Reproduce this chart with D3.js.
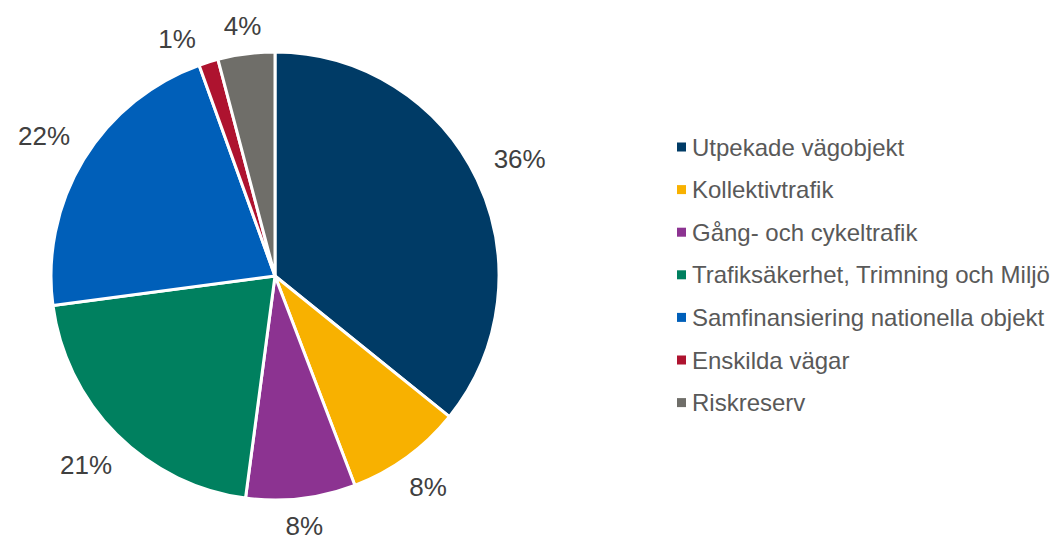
<!DOCTYPE html>
<html lang="en">
<head>
    <meta charset="UTF-8">
    <title>Fördelning</title>
    <script src="https://d3js.org/d3.v7.min.js"></script>
    <style>
        body { margin: 0; background: #fff; }
        svg { display: block; font-family: "Liberation Sans", Arial, sans-serif; }
    </style>
</head>
<body>
    <svg id="chart" width="1054" height="538"></svg>

    <script>
        // Categories and their shares (percent)
        const categories = [
            'Utpekade vägobjekt',
            'Kollektivtrafik',
            'Gång- och cykeltrafik',
            'Trafiksäkerhet, Trimning och Miljö',
            'Samfinansiering nationella objekt',
            'Enskilda vägar',
            'Riskreserv'
        ];
        const shares = [35.8, 8.4, 7.9, 20.8, 21.6, 1.4, 4.1];
        const colors = ['#003b66', '#f8b100', '#8c3391', '#00805f', '#005fb9', '#ae132f', '#6f6e69'];

        const svg = d3.select('#chart');
        const cx = 275, cy = 276, radius = 224;

        const data = categories.map((c, i) => ({ name: c, value: shares[i], color: colors[i] }));

        const pie = d3.pie().sort(null).value(d => d.value);
        const arc = d3.arc().innerRadius(0).outerRadius(radius);
        const arcsData = pie(data);

        const g = svg.append('g').attr('transform', `translate(${cx},${cy})`);

        g.selectAll('path.slice')
            .data(arcsData)
            .enter().append('path')
            .attr('class', 'slice')
            .attr('d', arc)
            .attr('fill', d => d.data.color)
            .attr('stroke', '#fff')
            .attr('stroke-width', 3)
            .attr('stroke-linejoin', 'round');

        // percent labels, placed just outside the pie edge
        const total = d3.sum(shares);
        const labels = g.selectAll('text.pct')
            .data(arcsData)
            .enter().append('text')
            .attr('class', 'pct')
            .attr('text-anchor', 'middle')
            .attr('dominant-baseline', 'central')
            .style('font-size', '26px')
            .style('fill', '#404040')
            .text(d => Math.round(d.data.value / total * 100) + '%');

        const h = 8;
        const boxes = [];
        function place(a, w) {
            const s = Math.sin(a), c = Math.cos(a);
            const dist = radius + 22 + Math.abs(s) * w / 2 + Math.abs(c) * h / 2;
            return { x: s * dist, y: -c * dist };
        }
        labels.each(function (d) {
            boxes.push({ el: this, w: this.getComputedTextLength(), a: (d.startAngle + d.endAngle) / 2 });
        });
        // go backwards from the last slice, nudging labels that crowd the next one
        for (let i = boxes.length - 1; i >= 0; i--) {
            const b = boxes[i];
            let p = place(b.a, b.w);
            const nxt = boxes[i + 1];
            if (nxt) {
                let guard = 0;
                while (Math.abs(p.y - nxt.p.y) < 24 &&
                       Math.abs(p.x - nxt.p.x) < (b.w + nxt.w) / 2 + 26 && guard < 100) {
                    b.a -= 0.01;
                    p = place(b.a, b.w);
                    guard++;
                }
            }
            b.p = p;
            d3.select(b.el).attr('x', p.x).attr('y', p.y);
        }

        // legend
        const legend = svg.append('g').attr('transform', 'translate(677,147)');
        const item = legend.selectAll('g.item')
            .data(data)
            .enter().append('g')
            .attr('class', 'item')
            .attr('transform', (d, i) => `translate(0,${i * 42.6})`);

        item.append('rect')
            .attr('x', 0)
            .attr('y', -4.5)
            .attr('width', 9)
            .attr('height', 9)
            .attr('fill', d => d.color);

        item.append('text')
            .attr('x', 15)
            .attr('y', 8.5)
            .style('font-size', '24px')
            .style('fill', '#595959')
            .text(d => d.name);
    </script>
</body>
</html>
